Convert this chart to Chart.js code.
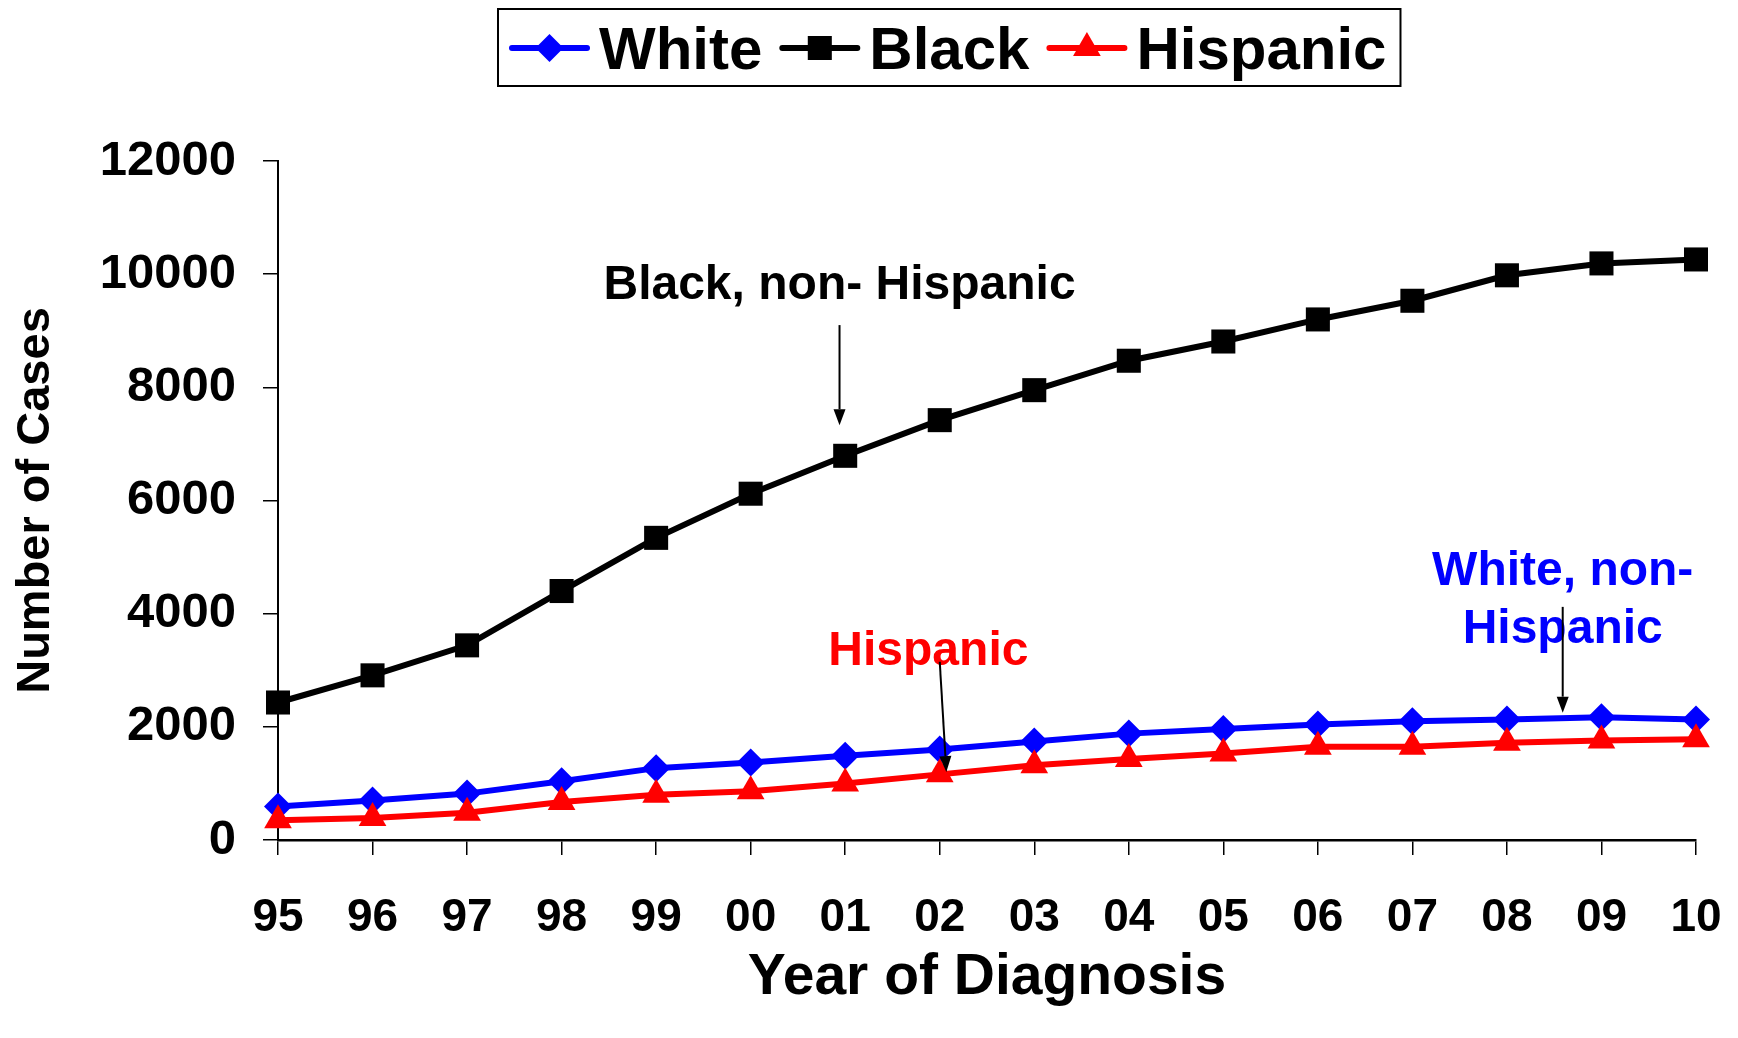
<!DOCTYPE html>
<html>
<head>
<meta charset="utf-8">
<script src="https://cdn.jsdelivr.net/npm/chart.js@4/dist/chart.umd.min.js"></script>
<style>
  html, body { margin: 0; padding: 0; background: #fff; }
</style>
</head>
<body>
<canvas id="chart" width="1738" height="1038"></canvas>
<script>
const years = ["95", "96", "97", "98", "99", "00", "01", "02", "03", "04", "05", "06", "07", "08", "09", "10"];
const white = [590, 700, 820, 1040, 1270, 1370, 1490, 1600, 1740, 1880, 1960, 2040, 2100, 2130, 2170, 2130];
const black = [2430, 2910, 3440, 4400, 5340, 6120, 6790, 7420, 7950, 8470, 8810, 9200, 9530, 9980, 10190, 10260];
const hispanic = [350, 390, 480, 670, 800, 860, 1000, 1160, 1320, 1430, 1530, 1650, 1650, 1720, 1760, 1780];
const yTicks = [0, 2000, 4000, 6000, 8000, 10000, 12000];

const FONT = "'Liberation Sans', Arial, sans-serif";

// text notes with arrows, positioned in data units (x = category index)
const notes = [
  { lines: ["Black, non- Hispanic"], color: "#000000", at: [5.94, 9790], arrow: [[5.94, 9100], [5.94, 7330]] },
  { lines: ["Hispanic"], color: "#ff0000", at: [6.88, 3320], arrow: [[7.0, 3150], [7.07, 1200]] },
  { lines: ["White, non-", "Hispanic"], color: "#0000ff", at: [13.59, 4740], arrow: [[13.59, 4120], [13.59, 2250]] },
];

const drawArrow = (ctx, x1, y1, x2, y2) => {
  const ang = Math.atan2(y2 - y1, x2 - x1);
  const head = 16;
  ctx.save();
  ctx.strokeStyle = "#000";
  ctx.fillStyle = "#000";
  ctx.lineWidth = 2;
  ctx.beginPath();
  ctx.moveTo(x1, y1);
  ctx.lineTo(x2 - Math.cos(ang) * head, y2 - Math.sin(ang) * head);
  ctx.stroke();
  ctx.beginPath();
  ctx.moveTo(x2, y2);
  ctx.lineTo(x2 - Math.cos(ang) * head - Math.sin(ang) * 6, y2 - Math.sin(ang) * head + Math.cos(ang) * 6);
  ctx.lineTo(x2 - Math.cos(ang) * head + Math.sin(ang) * 6, y2 - Math.sin(ang) * head - Math.cos(ang) * 6);
  ctx.closePath();
  ctx.fill();
  ctx.restore();
};

const notesPlugin = {
  id: "notes",
  afterDatasetsDraw(chart) {
    const { ctx, scales: { x, y } } = chart;
    ctx.save();
    ctx.font = "bold 48px " + FONT;
    ctx.textAlign = "center";
    ctx.textBaseline = "middle";
    notes.forEach((n) => {
      const cx = x.getPixelForValue(n.at[0]);
      const cy = y.getPixelForValue(n.at[1]);
      ctx.fillStyle = n.color;
      n.lines.forEach((t, i) => ctx.fillText(t, cx, cy + i * 58));
      const [a, b] = n.arrow;
      drawArrow(ctx, x.getPixelForValue(a[0]), y.getPixelForValue(a[1]),
        x.getPixelForValue(b[0]), y.getPixelForValue(b[1]));
    });
    ctx.restore();
  },
};

// boxed legend with line + marker samples
const legendPlugin = {
  id: "boxLegend",
  afterDraw(chart) {
    const ctx = chart.ctx;
    const top = 9, h = 77, left = 498;
    const lineLen = 75, cy = 48;
    ctx.save();
    ctx.font = "bold 60px " + FONT;
    let xPos = left + 14;
    const items = chart.data.datasets.map((ds) => {
      const it = { ds, x: xPos, w: ctx.measureText(ds.label).width };
      xPos += lineLen + 12 + it.w + 20;
      return it;
    });
    const boxW = xPos - 20 + 14 - left;
    ctx.fillStyle = "#fff";
    ctx.fillRect(left, top, boxW, h);
    ctx.strokeStyle = "#000";
    ctx.lineWidth = 2;
    ctx.strokeRect(left, top, boxW, h);
    items.forEach(({ ds, x }) => {
      ctx.strokeStyle = ds.borderColor;
      ctx.lineWidth = 6;
      ctx.lineCap = "round";
      ctx.beginPath();
      ctx.moveTo(x, cy);
      ctx.lineTo(x + lineLen, cy);
      ctx.stroke();
      ctx.fillStyle = ds.borderColor;
      Chart.helpers.drawPoint(ctx, { pointStyle: ds.pointStyle, radius: ds.pointRadius, rotation: 0, borderWidth: 0 }, x + lineLen / 2, cy);
      ctx.fillStyle = "#000";
      ctx.textBaseline = "alphabetic";
      ctx.textAlign = "left";
      ctx.fillText(ds.label, x + lineLen + 12, 69);
    });
    ctx.restore();
  },
};

const makeSet = (label, data, color, style, radius, order) => ({
  label,
  data,
  borderColor: color,
  backgroundColor: color,
  pointBackgroundColor: color,
  pointBorderColor: color,
  pointBorderWidth: 0,
  pointStyle: style,
  pointRadius: radius,
  pointHoverRadius: radius,
  borderWidth: 6,
  tension: 0,
  clip: false,
  order,
});

new Chart(document.getElementById("chart"), {
  type: "line",
  data: {
    labels: years,
    datasets: [
      makeSet("White", white, "#0000ff", "rectRot", 14, 1),
      makeSet("Black", black, "#000000", "rect", 17, 1),
      makeSet("Hispanic", hispanic, "#ff0000", "triangle", 16, 0),
    ],
  },
  options: {
    responsive: false,
    animation: false,
    layout: { padding: { left: 0, right: 42, top: 161, bottom: 0 } },
    plugins: {
      legend: { display: false },
      tooltip: { enabled: false },
    },
    scales: {
      x: {
        offset: false,
        grid: { display: true, drawOnChartArea: false, drawTicks: true, tickLength: 15, color: "#000", lineWidth: 1.5 },
        border: { display: true, color: "#000", width: 2.5 },
        ticks: { color: "#000", padding: 40, maxRotation: 0, autoSkip: false, font: { family: FONT, size: 46, weight: "bold", lineHeight: 1 } },
        title: { display: true, text: "Year of Diagnosis", color: "#000", padding: { top: 0, bottom: 31 }, font: { family: FONT, size: 57, weight: "bold", lineHeight: 1 } },
        afterFit: (scale) => {
          scale.height = 198;
          scale.paddingLeft = 0;
          scale.paddingRight = 0;
        },
      },
      y: {
        min: 0,
        max: 12000,
        afterBuildTicks: (scale) => { scale.ticks = yTicks.map((v) => ({ value: v })); },
        grid: { display: true, drawOnChartArea: false, drawTicks: true, tickLength: 15, color: "#000", lineWidth: 1.5 },
        border: { display: true, color: "#000", width: 2 },
        ticks: { color: "#000", padding: 27, callback: (v) => String(v), font: { family: FONT, size: 49, weight: "bold", lineHeight: 1 } },
        title: { display: true, text: "Number of Cases", color: "#000", padding: { top: 13, bottom: 0 }, font: { family: FONT, size: 47, weight: "bold", lineHeight: 1 } },
        afterFit: (scale) => { scale.width = 278; },
      },
    },
  },
  plugins: [notesPlugin, legendPlugin],
});
</script>
</body>
</html>
